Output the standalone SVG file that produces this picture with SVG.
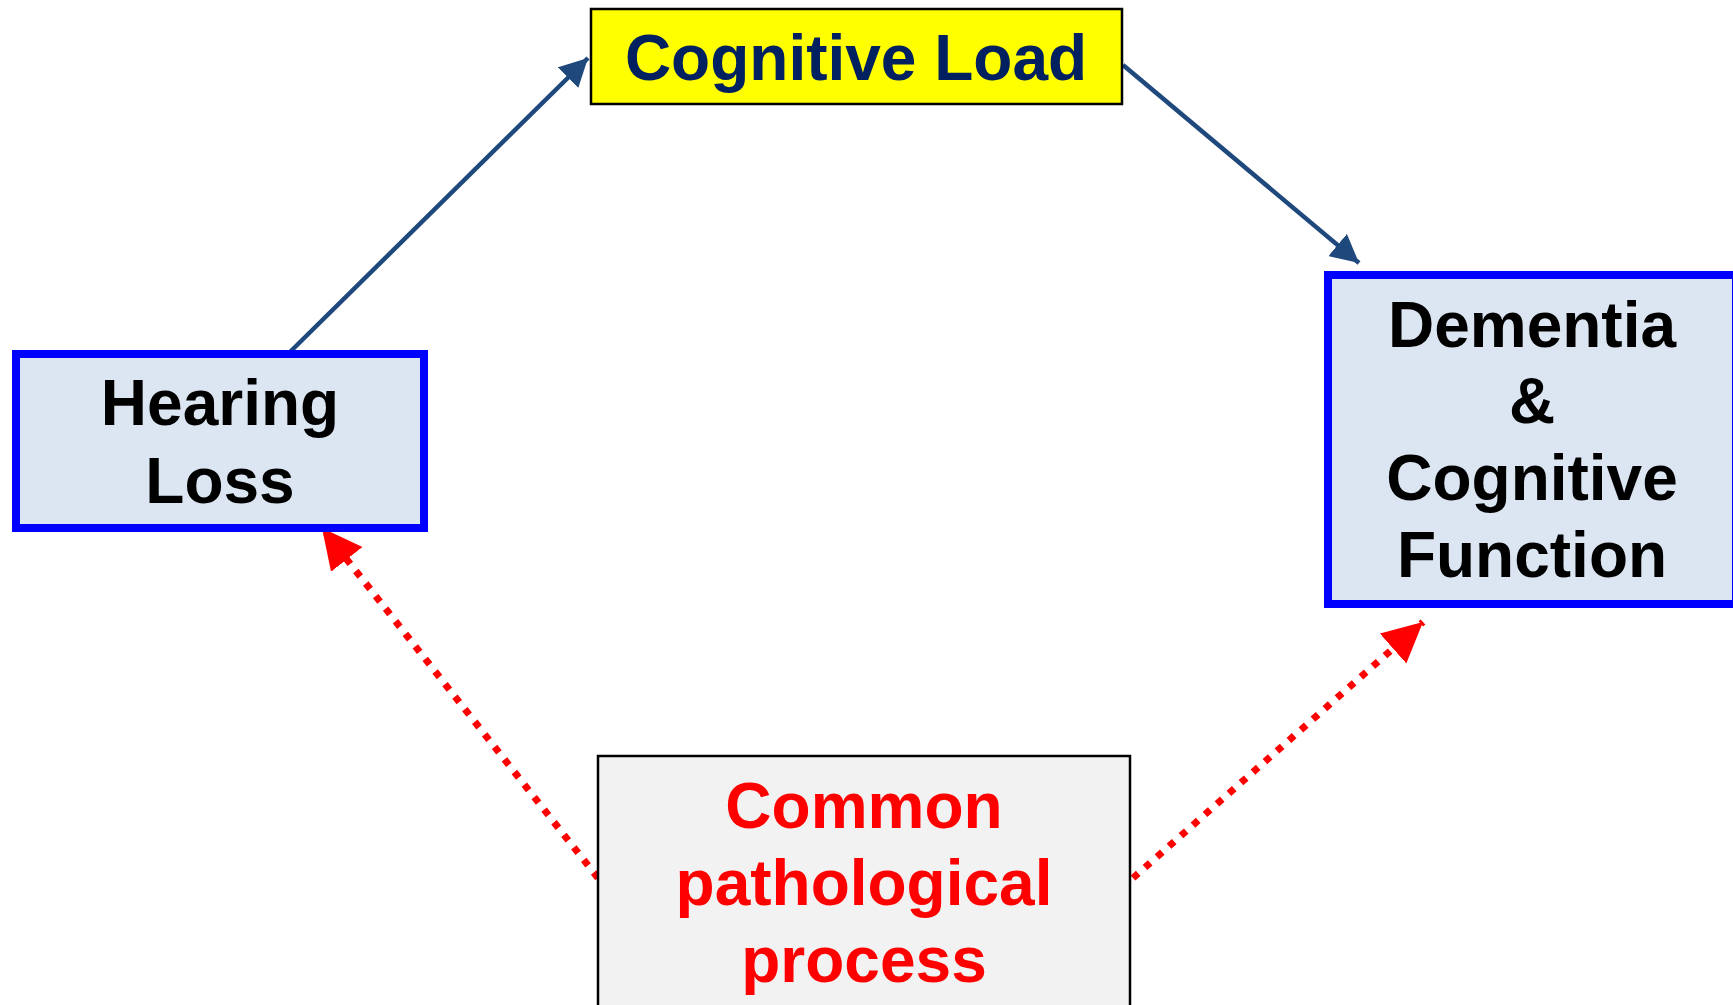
<svg xmlns="http://www.w3.org/2000/svg" width="1733" height="1005" viewBox="0 0 1733 1005">
  <style>
    .lbl { font-family: "Liberation Sans", Arial, sans-serif; font-weight: bold; font-size: 64px; text-anchor: middle; }
    .dark { fill: #000000; }
    .navy { fill: #002060; }
    .red { fill: #FF0000; }
    .blue-box { fill: #DCE6F2; stroke: #0000FF; stroke-width: 8; }
    .load-box { fill: #FFFF00; stroke: #000000; stroke-width: 2.5; }
    .common-box { fill: #F2F2F2; stroke: #000000; stroke-width: 2.5; }
    .solid { fill: none; stroke: #1F497D; stroke-width: 4.5; }
    .dotted { fill: none; stroke: #FF0000; stroke-width: 7; stroke-dasharray: 7 9; }
  </style>
  <defs>
    <marker id="head-navy" markerUnits="userSpaceOnUse" markerWidth="29" markerHeight="29" refX="28" refY="14.5" orient="auto">
      <path d="M0,0 L28,14.5 L0,29 z" fill="#1F497D"/>
    </marker>
    <marker id="head-red" markerUnits="userSpaceOnUse" markerWidth="41" markerHeight="41" refX="40" refY="20" orient="auto">
      <path d="M0,0 L40,20 L0,40 z" fill="#FF0000"/>
    </marker>
  </defs>

  <rect width="1733" height="1005" fill="#FFFFFF"/>

  <!-- connectors -->
  <g id="connectors">
    <path class="solid" d="M290,352 L588,58" marker-end="url(#head-navy)"/>
    <path class="solid" d="M1123,65 L1359,263" marker-end="url(#head-navy)"/>
    <path class="dotted" d="M598,878 L322,528" marker-end="url(#head-red)"/>
    <path class="dotted" d="M1133,878 L1423,622" marker-end="url(#head-red)"/>
  </g>

  <!-- nodes -->
  <g id="cognitive-load">
    <rect class="load-box" x="591" y="9" width="531" height="95"/>
    <text class="lbl navy" x="856" y="80">Cognitive Load</text>
  </g>

  <g id="hearing-loss">
    <rect class="blue-box" x="16" y="354" width="408" height="174"/>
    <text class="lbl dark" x="220" y="425">Hearing</text>
    <text class="lbl dark" x="220" y="503">Loss</text>
  </g>

  <g id="dementia">
    <rect class="blue-box" x="1328" y="275" width="408" height="329"/>
    <text class="lbl dark" x="1532" y="347">Dementia</text>
    <text class="lbl dark" x="1532" y="423">&amp;</text>
    <text class="lbl dark" x="1532" y="500">Cognitive</text>
    <text class="lbl dark" x="1532" y="577">Function</text>
  </g>

  <g id="common-process">
    <rect class="common-box" x="598" y="756" width="532" height="260"/>
    <text class="lbl red" x="864" y="828">Common</text>
    <text class="lbl red" x="864" y="905">pathological</text>
    <text class="lbl red" x="864" y="982">process</text>
  </g>
</svg>
